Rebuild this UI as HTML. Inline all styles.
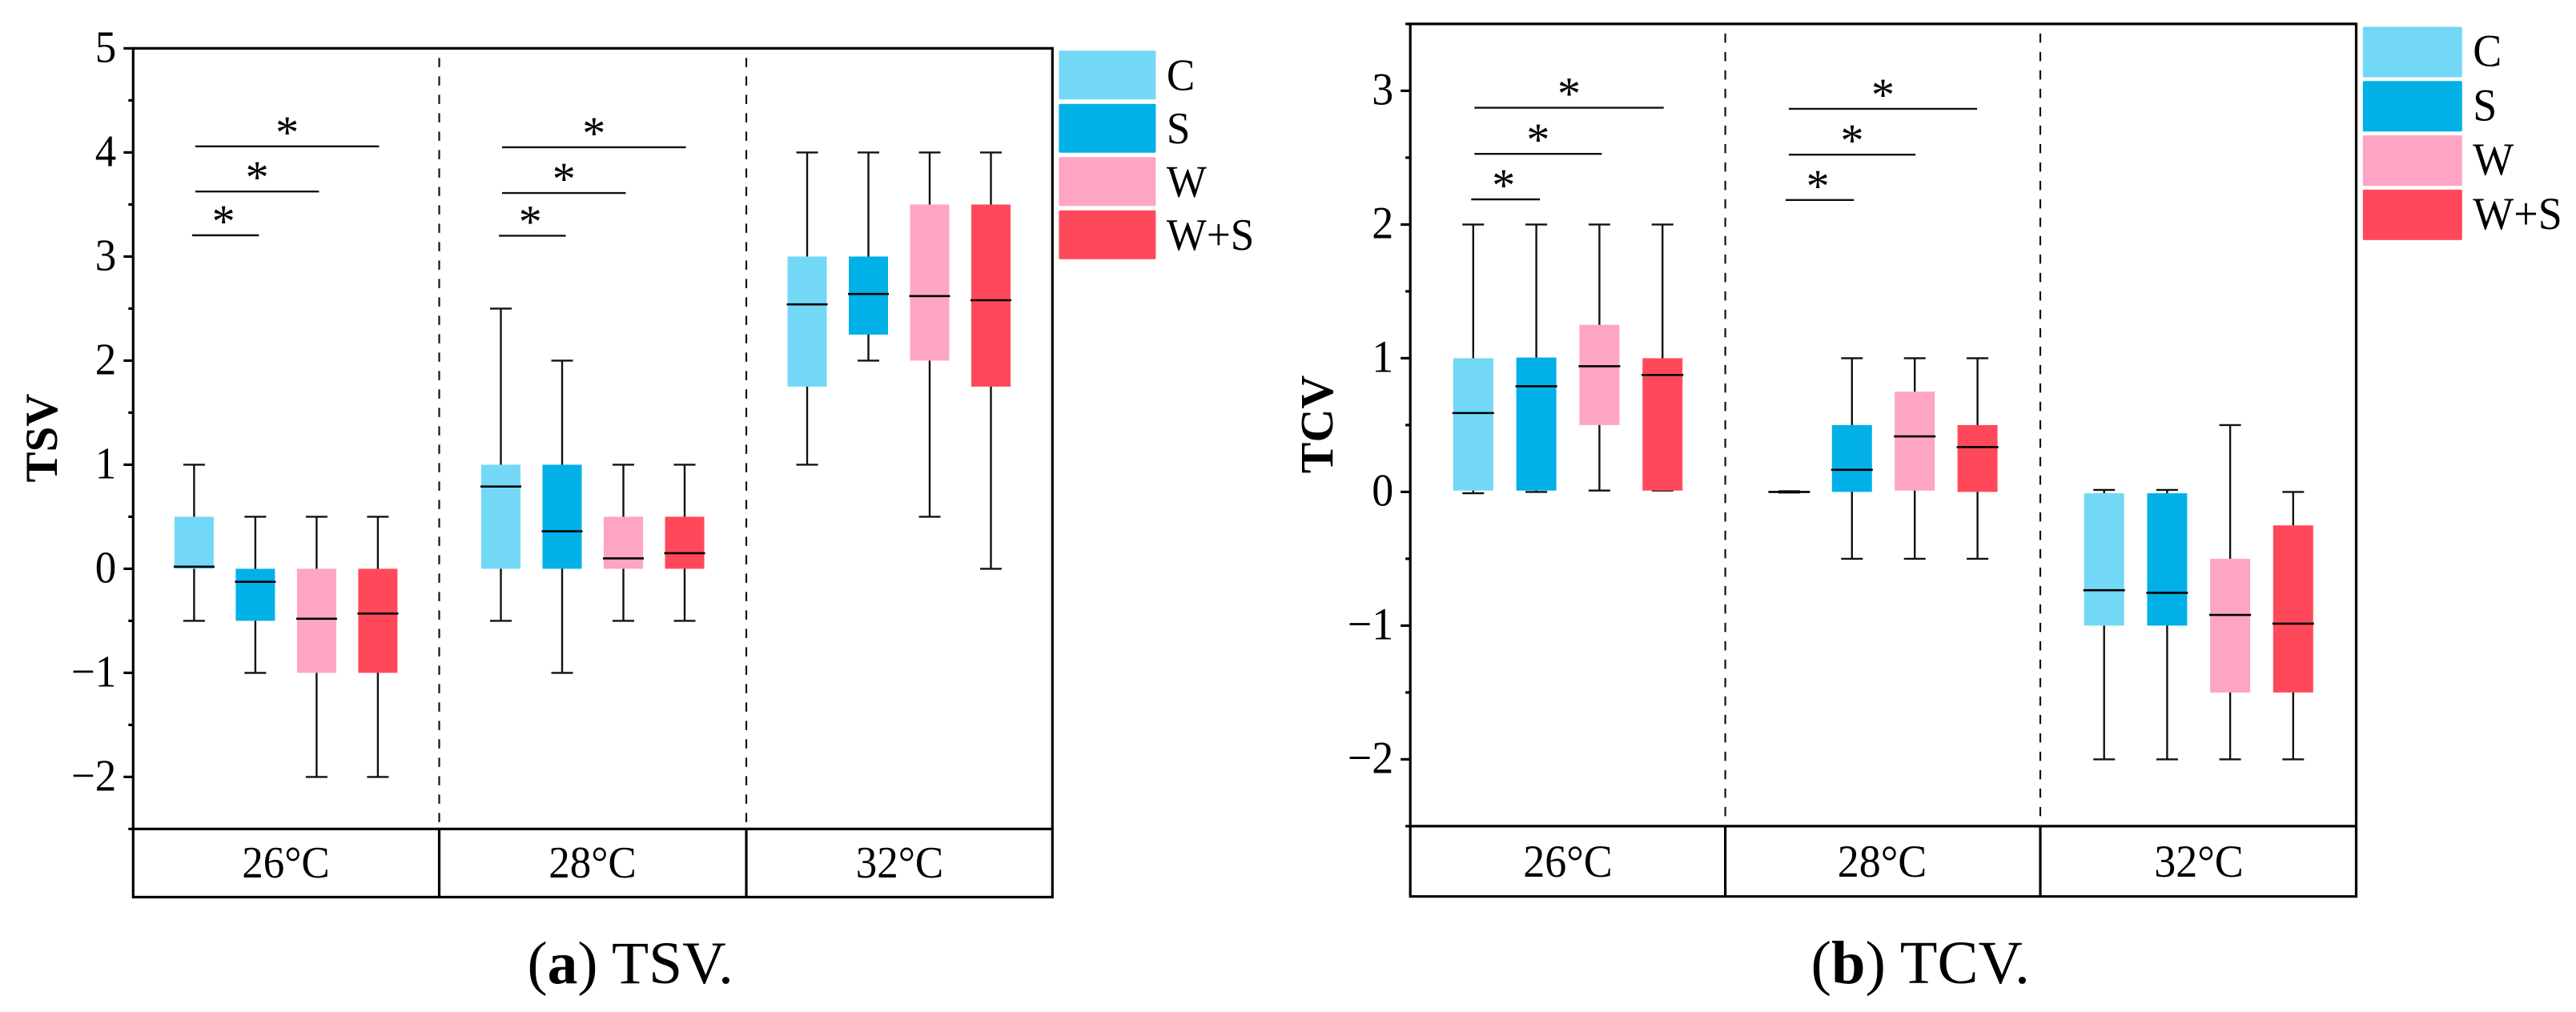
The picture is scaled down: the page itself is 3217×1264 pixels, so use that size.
<!DOCTYPE html>
<html lang="en">
<head>
<meta charset="utf-8">
<title>TSV and TCV box plots</title>
<style>
html,body{margin:0;padding:0;background:#fff;width:3217px;height:1264px;overflow:hidden}
svg{display:block;font-family:"Liberation Serif","Times New Roman",serif;fill:#000}
</style>
</head>
<body>
<svg id="figure" xmlns="http://www.w3.org/2000/svg" width="3217" height="1264" viewBox="0 0 3217 1264">
<rect width="3217" height="1264" fill="#fff"/>
<g id="chart-a"></g>
<g id="chart-b"></g>
<text x="658.5" y="1228" font-size="75.5">(<tspan font-weight="bold">a</tspan>) TSV.</text>
<text x="2261.5" y="1228" font-size="76.5">(<tspan font-weight="bold">b</tspan>) TCV.</text>
</svg>
<script>
// Shared categories
const categories = ["26°C", "28°C", "32°C"];
const seriesNames = ["C", "S", "W", "W+S"];
const seriesColors = ["#73D8F5", "#02B0E8", "#FEA5C3", "#FF495B"];

// TSV values, one row per temperature, one column per series
const tsvTicks = [5, 4, 3, 2, 1, 0, -1, -2];
const tsvWhiskerHigh = [[1, 0.5, 0.5, 0.5], [2.5, 2, 1, 1], [4, 4, 4, 4]];
const tsvQ3 = [[0.5, 0, 0, 0], [1, 1, 0.5, 0.5], [3, 3, 3.5, 3.5]];
const tsvMedian = [[0.02, -0.125, -0.48, -0.43], [0.79, 0.36, 0.1, 0.15], [2.54, 2.64, 2.62, 2.58]];
const tsvQ1 = [[0, -0.5, -1, -1], [0, 0, 0, 0], [1.75, 2.25, 2, 1.75]];
const tsvWhiskerLow = [[-0.5, -1, -2, -2], [-0.5, -1, -0.5, -0.5], [1, 2, 0.5, 0]];
const tsvBracketValues = [[3.204, 3.625, 4.058], [3.2, 3.61, 4.05]];

// TCV values
const tcvTicks = [3, 2, 1, 0, -1, -2];
const tcvWhiskerHigh = [[2, 2, 2, 2], [0.005, 1, 1, 1], [0.015, 0.015, 0.5, 0]];
const tcvQ3 = [[1, 1.005, 1.25, 1], [0, 0.5, 0.75, 0.5], [-0.01, -0.01, -0.5, -0.25]];
const tcvMedian = [[0.59, 0.79, 0.94, 0.875], [0, 0.165, 0.415, 0.335], [-0.735, -0.755, -0.92, -0.985]];
const tcvQ1 = [[0.01, 0.01, 0.5, 0.01], [0, 0, 0.01, 0], [-1, -1, -1.5, -1.5]];
const tcvWhiskerLow = [[-0.01, 0, 0.01, 0.01], [-0.005, -0.5, -0.5, -0.5], [-2, -2, -2, -2]];
const tcvBracketValues = [[2.188, 2.528, 2.873], [2.183, 2.522, 2.865]];

const SVGNS = "http://www.w3.org/2000/svg";
function make(parent, tag, attrs, text) {
  const el = document.createElementNS(SVGNS, tag);
  for (const k in attrs) el.setAttribute(k, attrs[k]);
  if (text !== undefined) el.textContent = text;
  parent.appendChild(el);
  return el;
}
function stretchedText(parent, x, y, str, anchor, size) {
  return make(parent, "text", {
    transform: "translate(" + x + " " + y + ") scale(1 1.055)",
    "font-size": size,
    "text-anchor": anchor
  }, str);
}

function drawChart(root, c, d) {
  const yScale = v => c.yZero - c.yUnit * v;
  const xScale = (g, s) => c.firstBox[g] + s * c.spacing[g];
  const top = yScale(c.yMax);
  const base = yScale(c.yMin);

  // dashed group separators
  c.dividers.forEach(x => {
    const dash = make(root, "line", {x1: x, x2: x, y1: top + 12, y2: base, stroke: "#111", "stroke-width": 2.2, "stroke-dasharray": "11.5 11.5"});
    
    
  });

  // boxes
  categories.forEach((cat, g) => {
    seriesNames.forEach((name, s) => {
      const cx = xScale(g, s);
      const box = make(root, "g", {});
      
      
      const hi = yScale(d.high[g][s]), lo = yScale(d.low[g][s]);
      make(box, "line", {x1: cx, x2: cx, y1: hi, y2: lo, stroke: "#111", "stroke-width": 2.4});
      make(box, "line", {x1: cx - 13.5, x2: cx + 13.5, y1: hi, y2: hi, stroke: "#111", "stroke-width": 2.4});
      make(box, "line", {x1: cx - 13.5, x2: cx + 13.5, y1: lo, y2: lo, stroke: "#111", "stroke-width": 2.4});
      const q3 = yScale(d.q3[g][s]), q1 = yScale(d.q1[g][s]);
      make(box, "rect", {x: cx - c.boxW / 2, y: q3, width: c.boxW, height: Math.max(0, q1 - q3), fill: seriesColors[s]});
      const m = yScale(d.median[g][s]);
      make(box, "line", {x1: cx - c.boxW / 2 - 1, x2: cx + c.boxW / 2 + 1, y1: m, y2: m, stroke: "#000", "stroke-width": 2.6});
    });
  });

  // significance brackets: low, middle and top level in the first two groups
  d.brackets.forEach((levels, g) => {
    levels.forEach((v, level) => {
      const y = yScale(v);
      const leftPad = level === 0 ? -2.5 : 1.5;
      const rightPad = level === 0 ? 4.5 : level === 1 ? 3 : 1.5;
      const x1 = xScale(g, 0) + leftPad + c.bracketShift[g];
      const x2 = xScale(g, level + 1) + rightPad + c.bracketShift[g];
      const line = make(root, "line", {x1: x1, x2: x2, y1: y, y2: y, stroke: "#111", "stroke-width": 2.4});
      
      
      const star = make(root, "text", {x: (x1 + x2) / 2 - (level === 0 ? 2.5 : 0), y: y + 2, "font-size": 58, "text-anchor": "middle"}, "*");
      
      
    });
  });

  // frame
  const frame = make(root, "path", {
    d: "M" + c.left + " " + top + "H" + c.right + "V" + c.bottom + "H" + c.left + "Z" +
       "M" + c.left + " " + base + "H" + c.right +
       c.dividers.map(x => "M" + x + " " + base + "V" + c.bottom).join(""),
    fill: "none", stroke: "#000", "stroke-width": 3.2
  });
  
  

  // y axis ticks
  for (let v = c.yMin; v <= c.yMax + 0.001; v += 0.5) {
    const major = Number.isInteger(v);
    const y = yScale(v);
    const tick = make(root, "line", {x1: c.left - (major ? 12 : 6), x2: c.left, y1: y, y2: y, stroke: "#000", "stroke-width": 3.2});
    
    
  }
  d.ticks.forEach(v => {
    const label = stretchedText(root, c.left - c.tickLabelGap, yScale(v) + 17, String(v).replace("-", "\u2212"), "end", c.fontSize);
    
    
  });

  // y axis title
  const title = make(root, "text", {
    transform: "translate(" + c.titleX + " " + c.titleY + ") rotate(-90)",
    "font-size": c.titleSize, "font-weight": "bold", "text-anchor": "middle"
  }, d.title);
  
  

  // category labels
  categories.forEach((cat, g) => {
    const label = stretchedText(root, c.catX[g], c.catBaseline, cat, "middle", c.fontSize);
    
    
  });

  // legend
  seriesNames.forEach((name, s) => {
    const entry = make(root, "g", {});
    
    
    make(entry, "rect", {x: c.legendX, y: c.legendY + s * c.legendStep, width: c.legendW, height: c.legendH, rx: 1.5, fill: seriesColors[s]});
    stretchedText(entry, c.legendX + c.legendW + 13.5, c.legendY + s * c.legendStep + 49, name, "start", c.fontSize);
  });
}

drawChart(document.getElementById("chart-a"), {
  left: 166.3, right: 1314.3, bottom: 1120.5,
  yZero: 710.4, yUnit: 130, yMin: -2.5, yMax: 5,
  dividers: [548.5, 932],
  firstBox: [242.4, 625.5, 1008], spacing: [76.5, 76.5, 76.5], boxW: 49,
  bracketShift: [0, 0, 0],
  titleX: 71, titleY: 547, titleSize: 57,
  fontSize: 53, tickLabelGap: 21,
  catX: [357, 740, 1123.5], catBaseline: 1096,
  legendX: 1322.4, legendY: 63.3, legendStep: 66.5, legendW: 121, legendH: 61
}, {
  title: "TSV", ticks: tsvTicks, high: tsvWhiskerHigh, q3: tsvQ3, median: tsvMedian, q1: tsvQ1, low: tsvWhiskerLow, brackets: tsvBracketValues
});

drawChart(document.getElementById("chart-b"), {
  left: 1761.2, right: 2942.5, bottom: 1119.7,
  yZero: 614.4, yUnit: 167, yMin: -2.5, yMax: 3.5,
  dividers: [2154.6, 2548],
  firstBox: [1839.8, 2234.4, 2627.7], spacing: [78.8, 78.4, 78.7], boxW: 50,
  bracketShift: [0, -2, 0],
  titleX: 1664, titleY: 530, titleSize: 58,
  fontSize: 54, tickLabelGap: 21,
  catX: [1958, 2350.5, 2746], catBaseline: 1095,
  legendX: 2950.8, legendY: 33.5, legendStep: 67.8, legendW: 124, legendH: 63
}, {
  title: "TCV", ticks: tcvTicks, high: tcvWhiskerHigh, q3: tcvQ3, median: tcvMedian, q1: tcvQ1, low: tcvWhiskerLow, brackets: tcvBracketValues
});
</script>
</body>
</html>
